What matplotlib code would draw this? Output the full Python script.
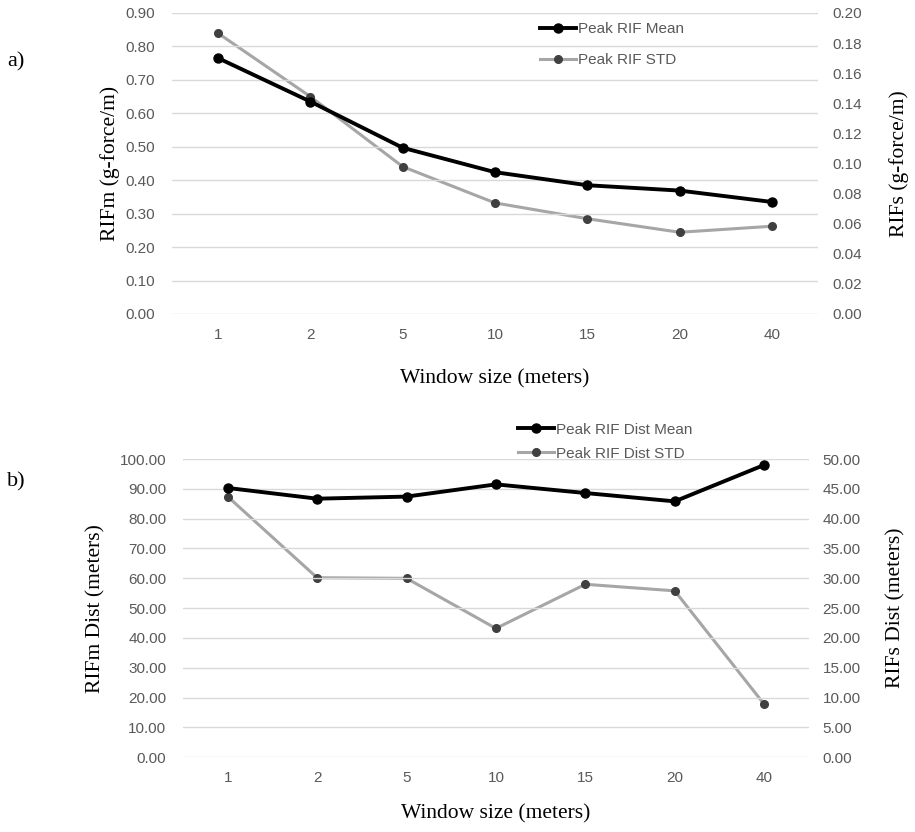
import matplotlib

matplotlib.use("Agg")
import matplotlib.pyplot as plt

windows = ["1", "2", "5", "10", "15", "20", "40"]

rif_mean = [0.765, 0.635, 0.497, 0.424, 0.385, 0.369, 0.335]
rif_std = [0.1865, 0.1444, 0.0979, 0.0738, 0.0633, 0.0543, 0.0583]

dist_mean = [90.3, 86.7, 87.4, 91.5, 88.6, 85.8, 98.0]
dist_std = [43.7, 30.1, 30.0, 21.6, 29.0, 27.9, 8.9]

TICK_FONT = "Liberation Sans"
LABEL_FONT = "Liberation Serif"
TICK_COLOR = "#595959"
GRID_COLOR = "#d9d9d9"
MEAN_COLOR = "black"
STD_COLOR = "#a6a6a6"
STD_MARKER = "#404040"
TICK_SIZE = 11
LABEL_SIZE = 15.5


def style_axes(ax, ax2, ylim_left, ylim_right, fmt):
    x = range(len(windows))
    ax.set_xlim(-0.5, len(windows) - 0.5)
    ax.set_xticks(list(x))
    ax.set_xticklabels(windows)
    ax.set_ylim(*ylim_left)
    ax2.set_ylim(*ylim_right)
    for a in (ax, ax2):
        for s in a.spines.values():
            s.set_visible(False)
        a.tick_params(length=0, labelsize=TICK_SIZE, labelcolor=TICK_COLOR)
        a.yaxis.set_major_formatter(plt.FormatStrFormatter(fmt))
    ax.grid(axis="y", color=GRID_COLOR, lw=1)
    ax.set_axisbelow(True)
    ax.tick_params(axis="x", pad=10)
    ax.tick_params(axis="y", pad=12)
    ax2.tick_params(axis="y", pad=10)


def fix_fonts(*axes):
    for a in axes:
        for lab in a.get_xticklabels() + a.get_yticklabels():
            lab.set_fontfamily(TICK_FONT)


fig = plt.figure(figsize=(9.15, 8.32), dpi=100)
x = range(len(windows))

# ---- panel a
ax = fig.add_axes([0.188, 0.6226, 0.706, 0.3618])
ax2 = ax.twinx()
style_axes(ax, ax2, (0, 0.9), (0, 0.2), "%.2f")
ax.set_yticks([i / 10 for i in range(10)])
ax2.set_yticks([i / 50 for i in range(11)])
fix_fonts(ax, ax2)
l1, = ax.plot(x, rif_mean, color=MEAN_COLOR, lw=2.8, marker="o", ms=6.5,
              label="Peak RIF Mean", zorder=3)
l2, = ax2.plot(x, rif_std, color=STD_COLOR, lw=2.2, marker="o", ms=5.5,
               mfc=STD_MARKER, mec=STD_MARKER, label="Peak RIF STD")
ax.set_ylabel("RIFm (g-force/m)", fontfamily=LABEL_FONT, fontsize=LABEL_SIZE, labelpad=4)
ax2.set_ylabel("RIFs (g-force/m)", fontfamily=LABEL_FONT, fontsize=LABEL_SIZE, labelpad=20)
ax.set_xlabel("Window size (meters)", fontfamily=LABEL_FONT, fontsize=LABEL_SIZE, labelpad=20)
ax.set_zorder(ax2.get_zorder() + 1)
ax.patch.set_visible(False)
leg = ax.legend(handles=[l1, l2], loc="upper left", bbox_to_anchor=(0.548, 1.015),
                frameon=False, prop={"family": TICK_FONT, "size": TICK_SIZE},
                handlelength=2.4, handletextpad=0.1, labelspacing=1.1)
for t in leg.get_texts():
    t.set_color(TICK_COLOR)
fig.text(0.008, 0.92, "a)", fontfamily=LABEL_FONT, fontsize=16)

# ---- panel b
bx = fig.add_axes([0.2, 0.0898, 0.684, 0.3585])
bx2 = bx.twinx()
style_axes(bx, bx2, (0, 100), (0, 50), "%.2f")
bx.set_yticks(range(0, 101, 10))
bx2.set_yticks(range(0, 51, 5))
fix_fonts(bx, bx2)
m1, = bx.plot(x, dist_mean, color=MEAN_COLOR, lw=2.8, marker="o", ms=6.5,
              label="Peak RIF Dist Mean", zorder=3)
m2, = bx2.plot(x, dist_std, color=STD_COLOR, lw=2.2, marker="o", ms=5.5,
               mfc=STD_MARKER, mec=STD_MARKER, label="Peak RIF Dist STD")
bx.set_ylabel("RIFm Dist (meters)", fontfamily=LABEL_FONT, fontsize=LABEL_SIZE, labelpad=10)
bx2.set_ylabel("RIFs Dist (meters)", fontfamily=LABEL_FONT, fontsize=LABEL_SIZE, labelpad=18)
bx.set_xlabel("Window size (meters)", fontfamily=LABEL_FONT, fontsize=LABEL_SIZE, labelpad=14)
bx.set_zorder(bx2.get_zorder() + 1)
bx.patch.set_visible(False)
leg = bx.legend(handles=[m1, m2], loc="lower left", bbox_to_anchor=(0.513, 0.948),
                frameon=False, prop={"family": TICK_FONT, "size": TICK_SIZE},
                handlelength=2.4, handletextpad=0.1, labelspacing=0.65)
for t in leg.get_texts():
    t.set_color(TICK_COLOR)
fig.text(0.008, 0.415, "b)", fontfamily=LABEL_FONT, fontsize=16)

fig.savefig("out.png", dpi=100)
